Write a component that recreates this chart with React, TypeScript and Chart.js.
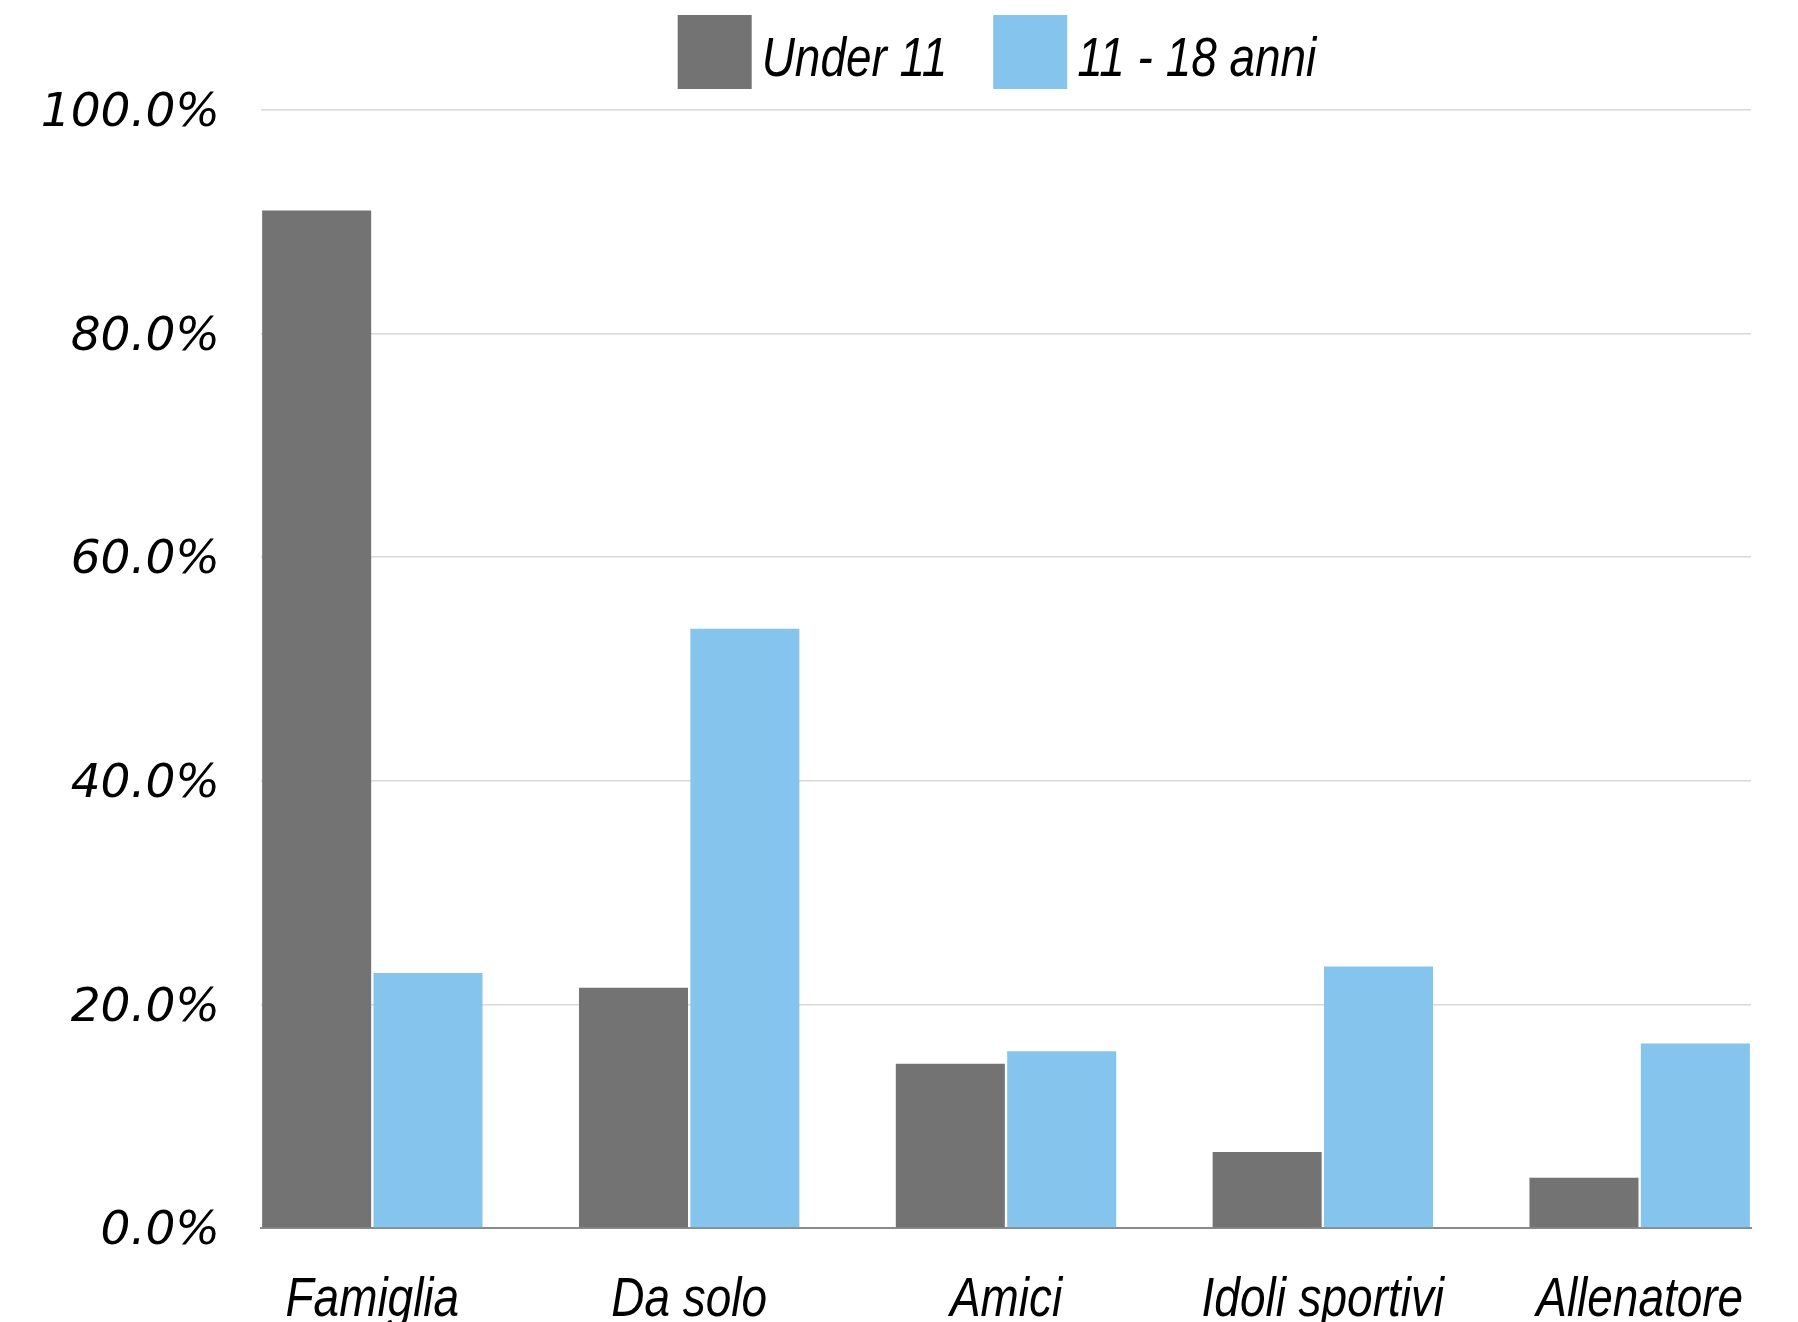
import React, { useEffect, useRef } from "react";
import { Chart, registerables } from "chart.js";

Chart.register(...registerables);

const categories = ["Famiglia", "Da solo", "Amici", "Idoli sportivi", "Allenatore"];
const seriesLabels = ["Under 11", "11 - 18 anni"];
const under11 = [91.0, 21.5, 14.7, 6.8, 4.5];
const age11to18 = [22.8, 53.6, 15.8, 23.4, 16.5];
const yTicks = [0, 20, 40, 60, 80, 100];

const GRAY = "#737373";
const BLUE = "#85C4ED";
const W = 1798;
const H = 1322;
const YFONT = "'DejaVu Sans', sans-serif";
const NARROW_FONT = "italic 56px 'Liberation Sans', Arial, sans-serif";
const SQUEEZE = 0.82;

// Condensed italic text (category labels and legend) drawn with a horizontal squeeze.
function drawCondensed(ctx: any, text: string, x: number, y: number, align: string) {
  ctx.save();
  ctx.font = NARROW_FONT;
  ctx.fillStyle = "#000";
  ctx.textAlign = align;
  ctx.textBaseline = "alphabetic";
  ctx.translate(x, y);
  ctx.scale(SQUEEZE, 1);
  ctx.fillText(text, 0, 0);
  ctx.restore();
}

const categoryLabelPlugin = {
  id: "categoryLabels",
  afterDraw(chart: any) {
    const xs = chart.scales.x;
    const ctx = chart.ctx;
    xs.ticks.forEach((t: any) => {
      const label = categories[Math.round(t.value)];
      if (label == null) return;
      drawCondensed(ctx, label, xs.getPixelForValue(t.value), 1316, "center");
    });
  },
};

const legendPlugin = {
  id: "customLegend",
  afterDraw(chart: any) {
    const ctx = chart.ctx;
    const area = chart.chartArea;
    const box = 74;
    const gapText = 10;
    const gapItem = 46;
    ctx.save();
    ctx.font = NARROW_FONT;
    const items = chart.data.datasets.map((ds: any) => ({
      label: ds.label,
      color: ds.backgroundColor,
      w: ctx.measureText(ds.label).width * SQUEEZE,
    }));
    ctx.restore();
    const total =
      items.reduce((s: number, it: any) => s + box + gapText + it.w, 0) + gapItem * (items.length - 1);
    let x = (area.left + area.right) / 2 - 9 - total / 2;
    const top = 15;
    items.forEach((it: any) => {
      ctx.save();
      ctx.fillStyle = it.color;
      ctx.fillRect(x, top, box, box);
      ctx.restore();
      x += box + gapText;
      drawCondensed(ctx, it.label, x, 76, "left");
      x += it.w + gapItem;
    });
  },
};

export default function App() {
  const ref = useRef<HTMLCanvasElement | null>(null);

  useEffect(() => {
    if (!ref.current) return;
    const chart = new Chart(ref.current, {
      type: "bar",
      data: {
        datasets: [
          {
            label: seriesLabels[0],
            data: under11.map((v, i) => ({ x: i, y: v })),
            backgroundColor: GRAY,
            categoryPercentage: 0.703,
            barPercentage: 0.979,
          },
          {
            label: seriesLabels[1],
            data: age11to18.map((v, i) => ({ x: i, y: v })),
            backgroundColor: BLUE,
            categoryPercentage: 0.703,
            barPercentage: 0.979,
          },
        ],
      },
      options: {
        responsive: false,
        animation: false,
        devicePixelRatio: 1,
        layout: { padding: { top: 110, right: 47, bottom: 0, left: 0 } },
        plugins: {
          legend: { display: false },
          tooltip: { enabled: false },
        },
        scales: {
          x: {
            type: "linear",
            offset: false,
            min: -0.3514,
            max: 4.3514,
            afterBuildTicks: (scale: any) => {
              scale.ticks = categories.map((_, i) => ({ value: i }));
            },
            afterFit: (scale: any) => {
              scale.height = 94;
            },
            grid: { display: false, drawTicks: false, offset: false },
            border: { display: true, color: "#8a8a8a", width: 2 },
            ticks: { display: false, autoSkip: false },
          },
          y: {
            type: "linear",
            min: 0,
            max: 100,
            afterBuildTicks: (scale: any) => {
              scale.ticks = yTicks.map((v) => ({ value: v }));
            },
            afterFit: (scale: any) => {
              scale.width = 261;
            },
            grid: { color: "#d9d9d9", lineWidth: 1.5, drawTicks: false },
            border: { display: false },
            ticks: {
              padding: 41,
              labelOffset: 4,
              color: "#000",
              font: { family: YFONT, size: 47, style: "italic" },
              callback: (v: any) => Number(v).toFixed(1) + "%",
            },
          },
        },
      },
      plugins: [categoryLabelPlugin, legendPlugin],
    } as any);
    return () => chart.destroy();
  }, []);

  return (
    <div style={{ position: "fixed", left: 0, top: 0, width: W, height: H, background: "#fff" }}>
      <canvas ref={ref} width={W} height={H} style={{ width: W, height: H, display: "block" }} />
    </div>
  );
}
